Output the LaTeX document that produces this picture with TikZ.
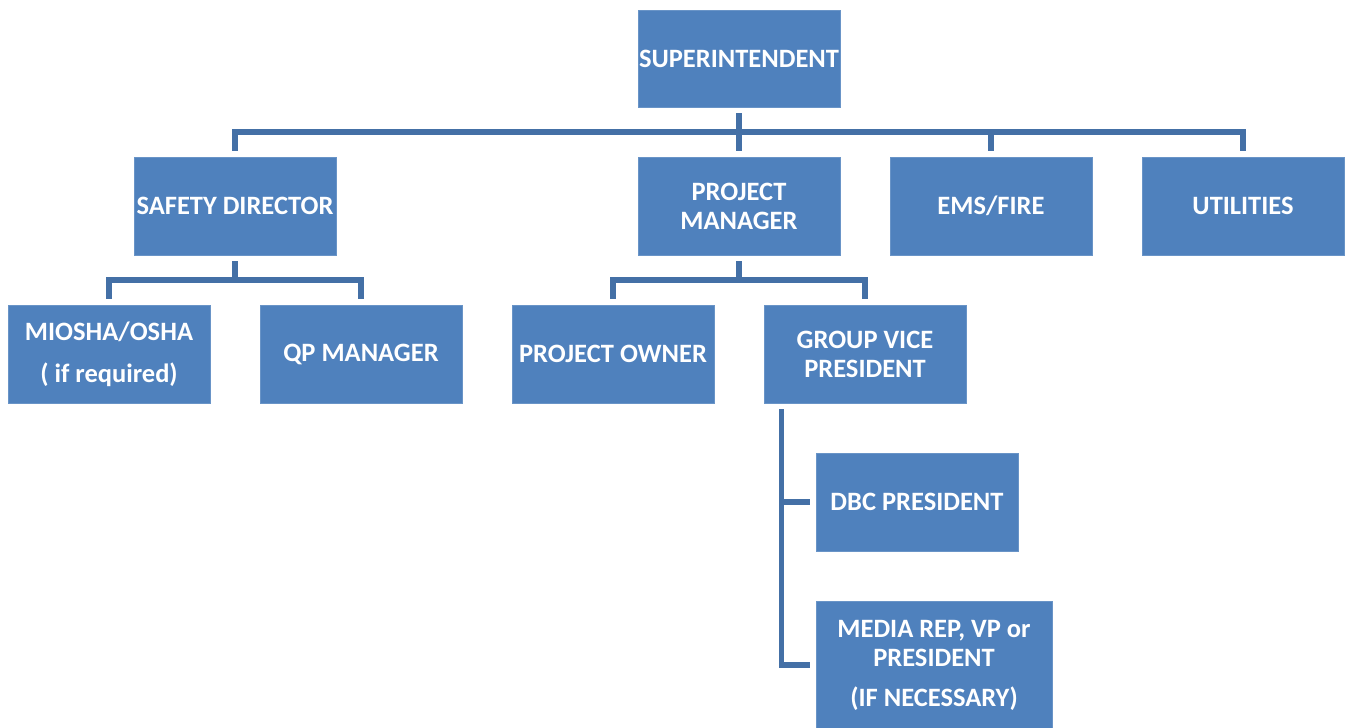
\documentclass[tikz,border=0pt]{standalone}
\usepackage{fontspec}
\setmainfont{Carlito}
\usetikzlibrary{calc}
\definecolor{boxblue}{HTML}{4F81BD}
\definecolor{linkblue}{HTML}{4470A6}
\begin{document}
\begin{tikzpicture}[x=1pt,y=-1pt,
  box/.style={rectangle, fill=boxblue, draw=boxblue!85!white, line width=0.8pt,
    minimum width=202pt, minimum height=98pt, inner sep=0pt,
    text=white, align=center, font=\fontsize{26.5}{29}\selectfont\bfseries},
  conn/.style={draw=linkblue, line width=5.5pt, line cap=butt, line join=miter}]
\useasboundingbox (0,0) rectangle (1347,728);

% top level
\node[box, minimum height=97pt] (sup) at (739,58.5) {SUPERINTENDENT};

% second level
\node[box] (sd)   at (235,206) {SAFETY DIRECTOR};
\node[box] (pm)   at (739,206) {PROJECT\\MANAGER};
\node[box] (ems)  at (991,206) {EMS/FIRE};
\node[box] (util) at (1243,206) {UTILITIES};

% third level
\node[box] (mio) at (109,354) {MIOSHA/OSHA\\[13pt]( if required)};
\node[box] (qp)  at (361,354) {QP MANAGER};
\node[box] (po)  at (613,354) {PROJECT OWNER};
\node[box] (gvp) at (865,354) {GROUP VICE\\PRESIDENT};

% under the group vice president
\node[box] (dbc) at (917,502) {DBC PRESIDENT};
\node[box, minimum width=236pt, minimum height=128pt] (media) at (934,665)
  {MEDIA REP, VP or\\PRESIDENT\\[11pt](IF NECESSARY)};

% superintendent to second level
\coordinate (bus1) at (739,132);
\draw[conn] ([yshift=-6pt]sup.south) -- ([yshift=6pt]pm.north);
\draw[conn] ([yshift=6pt]sd.north) |- (bus1) -| ([yshift=6pt]util.north);
\draw[conn] ([yshift=6pt]ems.north) -- (ems.north |- bus1);

% safety director to its reports
\coordinate (bus2) at (235,280);
\draw[conn] ([yshift=-6pt]sd.south) -- (bus2);
\draw[conn] ([yshift=6pt]mio.north) |- (bus2) -| ([yshift=6pt]qp.north);

% project manager to its reports
\coordinate (bus3) at (739,280);
\draw[conn] ([yshift=-6pt]pm.south) -- (bus3);
\draw[conn] ([yshift=6pt]po.north) |- (bus3) -| ([yshift=6pt]gvp.north);

% group vice president to its reports
\coordinate (gvtop) at ([xshift=18pt,yshift=-6pt]gvp.south west);
\draw[conn] (gvtop) |- ([xshift=-6pt]media.west);
\draw[conn] ([xshift=-6pt]dbc.west) -- (dbc.west -| gvtop);
\end{tikzpicture}
\end{document}
